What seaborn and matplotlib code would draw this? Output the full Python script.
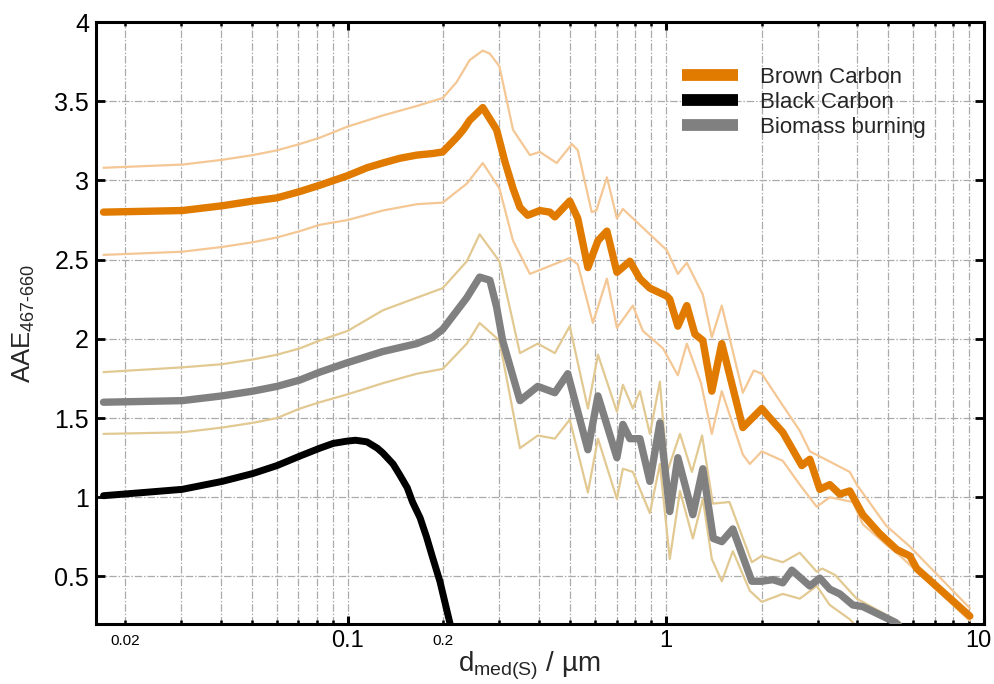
import numpy as np
import pandas as pd
import matplotlib
matplotlib.use("Agg")
import matplotlib.pyplot as plt
import matplotlib.transforms as mtrans
from matplotlib.ticker import LogLocator, FuncFormatter, NullLocator, FixedLocator
import seaborn as sns

# ---------------- data ----------------
brc_x = [0.0171, 0.0302, 0.0403, 0.0504, 0.060, 0.0708, 0.0818, 0.100, 0.115, 0.129, 0.146,
         0.165, 0.185, 0.199, 0.220, 0.231, 0.242, 0.266, 0.294, 0.312,
         0.331, 0.348, 0.368, 0.402, 0.432, 0.448, 0.499, 0.529, 0.569, 0.612, 0.653, 0.702,
         0.771, 0.829, 0.891, 1.007, 1.029, 1.091, 1.164, 1.234, 1.307, 1.395, 1.499, 1.746,
         2.002, 2.169, 2.331, 2.675, 2.835, 3.047, 3.275, 3.521, 3.785, 4.158, 4.702, 5.318,
         5.842, 6.144, 7.258, 9.02]
brc_y = [2.80, 2.81, 2.84, 2.87, 2.89, 2.93, 2.97, 3.03, 3.08, 3.11, 3.14,
         3.16, 3.17, 3.18, 3.27, 3.32, 3.38, 3.46, 3.32, 3.12,
         2.95, 2.83, 2.78, 2.81, 2.80, 2.77, 2.87, 2.76, 2.45, 2.62, 2.68, 2.42,
         2.49, 2.38, 2.32, 2.27, 2.25, 2.08, 2.21, 2.03, 1.99, 1.67, 1.97, 1.44,
         1.56, 1.48, 1.41, 1.20, 1.24, 1.05, 1.08, 1.02, 1.04, 0.89, 0.77, 0.67,
         0.63, 0.55, 0.42, 0.25]

brc_up_x = [0.0171, 0.0302, 0.0403, 0.0504, 0.060, 0.0708, 0.0818, 0.100, 0.129, 0.165,
            0.199, 0.220, 0.242, 0.266, 0.280, 0.300,
            0.331, 0.374, 0.402, 0.454, 0.507, 0.529, 0.585, 0.605, 0.653, 0.702, 0.733,
            0.891, 1.007, 1.091, 1.164, 1.307, 1.395, 1.499, 1.746, 1.890, 2.002, 2.26,
            2.636, 2.835, 3.10, 3.785, 3.98, 4.93, 5.84, 9.02]
brc_up_y = [3.08, 3.10, 3.13, 3.16, 3.19, 3.23, 3.27, 3.34, 3.41, 3.47,
            3.52, 3.62, 3.76, 3.82, 3.80, 3.72,
            3.32, 3.16, 3.18, 3.11, 3.23, 3.19, 2.80, 2.81, 3.02, 2.76, 2.82,
            2.66, 2.56, 2.41, 2.48, 2.28, 2.01, 2.21, 1.66, 1.80, 1.78, 1.62,
            1.42, 1.29, 1.25, 1.16, 1.08, 0.82, 0.69, 0.30]

brc_lo_x = [0.0171, 0.0302, 0.0403, 0.0504, 0.060, 0.0708, 0.0818, 0.100, 0.129, 0.165,
            0.199, 0.237, 0.266, 0.300, 0.331, 0.374,
            0.432, 0.499, 0.529, 0.590, 0.653, 0.702, 0.788, 0.847, 0.98, 1.091, 1.164,
            1.29, 1.395, 1.499, 1.746, 1.836, 2.002, 2.331, 2.636, 2.98, 3.275, 3.87,
            4.158, 4.93, 5.45, 9.02]
brc_lo_y = [2.53, 2.55, 2.58, 2.61, 2.64, 2.68, 2.72, 2.75, 2.81, 2.85,
            2.86, 2.98, 3.11, 2.95, 2.62, 2.41,
            2.46, 2.51, 2.47, 2.10, 2.38, 2.07, 2.21, 2.05, 1.94, 1.77, 1.97,
            1.72, 1.40, 1.67, 1.27, 1.21, 1.29, 1.23, 1.08, 0.94, 1.00, 0.97,
            0.83, 0.70, 0.63, 0.22]

bb_x = [0.0171, 0.0302, 0.0403, 0.0504, 0.060, 0.0708, 0.0818, 0.100, 0.129, 0.165, 0.185,
        0.199, 0.237, 0.260, 0.280, 0.294, 0.307,
        0.348, 0.396, 0.448, 0.492, 0.569, 0.612, 0.702, 0.733, 0.771, 0.829, 0.891,
        0.958, 1.029, 1.091, 1.216, 1.307, 1.41, 1.50, 1.624, 1.863, 2.002, 2.169,
        2.331, 2.489, 2.835, 3.047, 3.275, 3.521, 3.87, 4.158, 5.27, 5.45]
bb_y = [1.60, 1.61, 1.64, 1.67, 1.70, 1.74, 1.79, 1.85, 1.92, 1.97, 2.01,
        2.06, 2.26, 2.39, 2.37, 2.20, 1.99,
        1.61, 1.70, 1.66, 1.78, 1.30, 1.64, 1.25, 1.46, 1.37, 1.37, 1.10,
        1.47, 0.91, 1.25, 0.89, 1.18, 0.74, 0.72, 0.80, 0.47, 0.47, 0.48,
        0.46, 0.54, 0.44, 0.49, 0.42, 0.39, 0.32, 0.31, 0.21, 0.18]

bb_up_x = [0.0171, 0.0302, 0.0403, 0.0504, 0.060, 0.0708, 0.0818, 0.100, 0.129, 0.165,
           0.199, 0.237, 0.260, 0.300, 0.348, 0.396,
           0.448, 0.499, 0.569, 0.612, 0.702, 0.733, 0.788, 0.829, 0.891, 0.958, 1.01,
           1.108, 1.208, 1.30, 1.405, 1.585, 1.863, 2.002, 2.331, 2.636, 2.98, 3.10,
           3.40, 3.98, 5.45]
bb_up_y = [1.79, 1.82, 1.84, 1.87, 1.90, 1.94, 1.99, 2.05, 2.18, 2.26,
           2.32, 2.49, 2.66, 2.49, 1.91, 1.97,
           1.91, 2.08, 1.56, 1.90, 1.54, 1.71, 1.56, 1.67, 1.40, 1.73, 1.16,
           1.40, 1.16, 1.39, 0.96, 0.97, 0.59, 0.63, 0.59, 0.65, 0.53, 0.55,
           0.51, 0.36, 0.21]

bb_lo_x = [0.0171, 0.0302, 0.0403, 0.0504, 0.060, 0.0708, 0.0818, 0.100, 0.129, 0.165,
           0.199, 0.237, 0.260, 0.300, 0.348, 0.396,
           0.448, 0.499, 0.569, 0.612, 0.702, 0.733, 0.788, 0.891, 0.958, 1.029, 1.108,
           1.216, 1.307, 1.395, 1.50, 1.624, 1.836, 2.002, 2.331, 2.636, 2.98, 3.275,
           3.785, 3.95]
bb_lo_y = [1.40, 1.41, 1.44, 1.47, 1.50, 1.56, 1.60, 1.65, 1.72, 1.78,
           1.81, 1.97, 2.10, 1.99, 1.31, 1.39,
           1.37, 1.49, 1.03, 1.37, 0.99, 1.18, 1.16, 0.90, 1.21, 0.61, 1.04,
           0.74, 0.99, 0.61, 0.47, 0.66, 0.41, 0.34, 0.39, 0.36, 0.44, 0.32,
           0.23, 0.19]

bc_x = [0.0171, 0.0228, 0.0302, 0.0403, 0.0504, 0.060, 0.0708, 0.0818, 0.0901, 0.100,
        0.106, 0.115, 0.124, 0.129, 0.139, 0.146, 0.154, 0.160, 0.169, 0.177, 0.185,
        0.195, 0.210]
bc_y = [1.01, 1.03, 1.05, 1.10, 1.15, 1.20, 1.26, 1.31, 1.34, 1.355,
        1.36, 1.35, 1.31, 1.28, 1.21, 1.14, 1.06, 0.97, 0.87, 0.75, 0.62,
        0.47, 0.20]

series_labels = ["Brown Carbon", "Black Carbon", "Biomass burning"]
y_ticks = [0.5, 1, 1.5, 2, 2.5, 3, 3.5, 4]
y_tick_labels = ["0.5", "1", "1.5", "2", "2.5", "3", "3.5", "4"]
x_major_ticks = [0.1, 1, 10]
x_major_labels = ["0.1", "1", "10"]
x_minor_labeled = [0.02, 0.2]
x_minor_labels = ["0.02", "0.2"]

# ---------------- style ----------------
sns.set_style("ticks")
plt.rcParams["font.family"] = ["Liberation Sans", "DejaVu Sans"]
plt.rcParams["mathtext.fontset"] = "custom"
plt.rcParams["mathtext.rm"] = "Liberation Sans"
plt.rcParams["mathtext.it"] = "Liberation Sans:italic"
plt.rcParams["mathtext.bf"] = "Liberation Sans:bold"

C_BRC = "#e07b00"
C_BB = "#808080"
C_BC = "#000000"
C_BRC_BAND = "#f4c795"
C_BB_BAND = "#e2c992"

fig = plt.figure(figsize=(9.95, 6.84), dpi=100)
ax = fig.add_axes([0.0965, 0.0877, 0.8925, 0.8801])


def draw(x, y, color, lw, label=None, z=2):
    df = pd.DataFrame({"d": x, "AAE": y})
    sns.lineplot(data=df, x="d", y="AAE", ax=ax, color=color, linewidth=lw,
                 estimator=None, sort=False, label=label,
                 legend=(label is not None), zorder=z)


# bands
draw(brc_up_x, brc_up_y, C_BRC_BAND, 1.6)
draw(brc_lo_x, brc_lo_y, C_BRC_BAND, 1.6)
draw(bb_up_x, bb_up_y, C_BB_BAND, 1.6)
draw(bb_lo_x, bb_lo_y, C_BB_BAND, 1.6)
# main curves
draw(brc_x, brc_y, C_BRC, 5.3, series_labels[0], z=4)
draw(bc_x, bc_y, C_BC, 5.0, series_labels[1], z=4)
draw(bb_x, bb_y, C_BB, 5.3, series_labels[2], z=4)

ax.set_xscale("log")
ax.set_xlim(0.0162, 10)
ax.set_ylim(0.2, 4)

# ticks
ax.set_yticks(y_ticks)
ax.set_yticklabels(y_tick_labels)
ax.yaxis.set_minor_locator(NullLocator())
ax.xaxis.set_major_locator(FixedLocator(x_major_ticks))
ax.xaxis.set_major_formatter(FuncFormatter(
    lambda v, p: next((l for t, l in zip(x_major_ticks, x_major_labels) if abs(v - t) < 1e-9 * max(t, 1)), "")))
ax.xaxis.set_minor_locator(LogLocator(base=10, subs=[2, 3, 4, 5, 6, 7, 8, 9], numticks=20))
ax.xaxis.set_minor_formatter(FuncFormatter(
    lambda v, p: next((l for t, l in zip(x_minor_labeled, x_minor_labels) if abs(v - t) / t < 1e-6), "")))

ax.tick_params(axis="both", which="both", direction="in", top=True, right=True, colors="black")
ax.tick_params(axis="y", which="major", length=6.5, width=2.0, labelsize=18, pad=5)
ax.tick_params(axis="x", which="major", length=6, width=2.2, labelsize=17, pad=4)
ax.tick_params(axis="x", which="minor", length=3, width=1.8, labelsize=11, pad=7)

for s in ax.spines.values():
    s.set_linewidth(2.2)
    s.set_color("black")

grid_kw = dict(color="#ababab", linewidth=0.9, linestyle=(0, (6, 1.5, 1.2, 1.5)))
ax.grid(True, which="major", axis="both", **grid_kw)
ax.grid(True, which="minor", axis="x", **grid_kw)
ax.set_axisbelow(True)

ax.set_ylabel(r"AAE$_{\mathrm{467\text{-}660}}$", fontsize=18.5)
ax.yaxis.set_label_coords(-0.066, 0.5)
ax.set_xlabel(r"d$_{\mathrm{med(S)}}$ / µm", fontsize=20)
ax.xaxis.set_label_coords(0.488, -0.042)

# keep the "10" label inside the canvas (nudge it slightly left)
fig.canvas.draw()
last_tick = ax.xaxis.get_major_ticks()[-1]
last_tick.label1.set_transform(last_tick.label1.get_transform()
                               + mtrans.ScaledTranslation(-4 / 72, 0, fig.dpi_scale_trans))

# legend
handles, labels = ax.get_legend_handles_labels()
order = [labels.index(l) for l in series_labels]
leg = ax.legend([handles[i] for i in order], [labels[i] for i in order],
                loc="upper left", bbox_to_anchor=(0.66, 0.925), frameon=False,
                fontsize=16, handlelength=2.5, handletextpad=1.0, labelspacing=0.17,
                borderpad=0, borderaxespad=0)
for ln in leg.get_lines():
    ln.set_linewidth(8.5)
    ln.set_solid_capstyle("butt")

fig.savefig("out.png", dpi=100)
